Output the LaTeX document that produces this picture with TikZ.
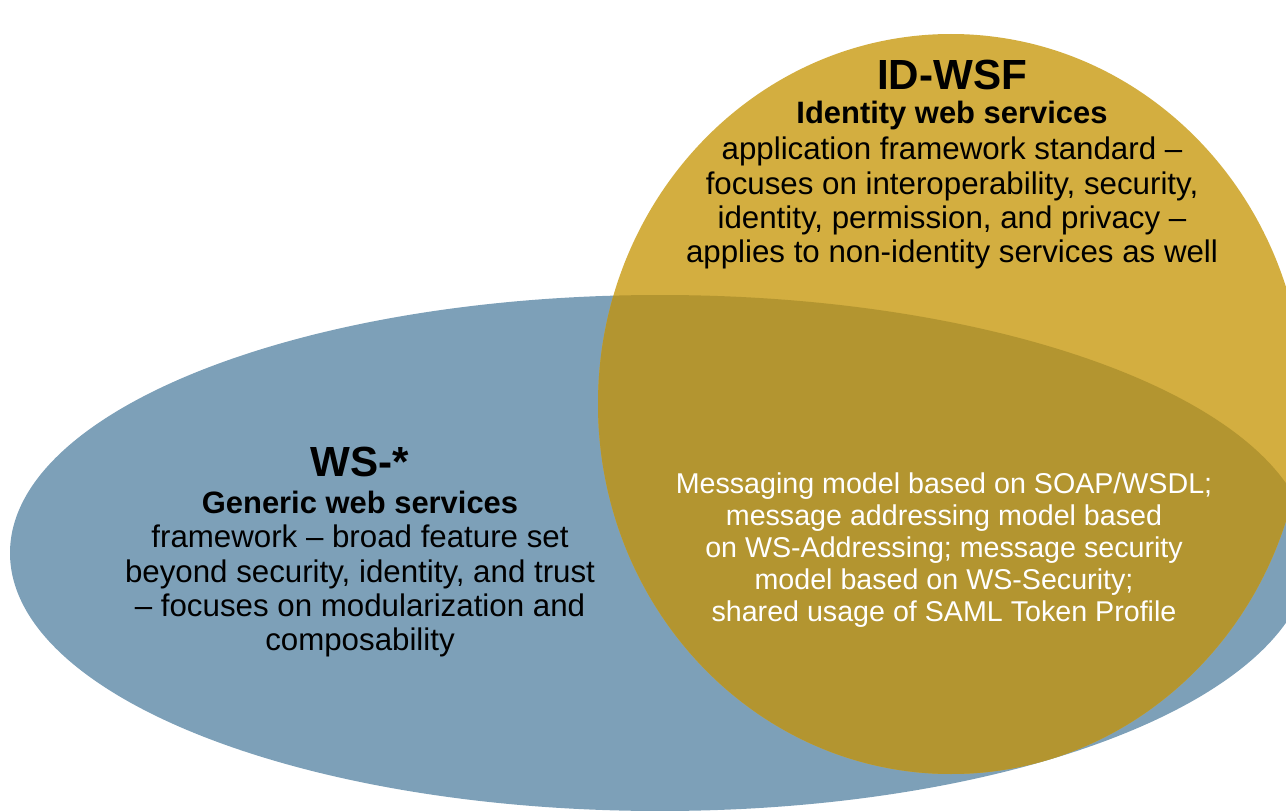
\documentclass[tikz,border=0pt]{standalone}
\usepackage{fontspec}
\setmainfont{Liberation Sans}
\definecolor{wsblue}{HTML}{7DA0B8}
\definecolor{idgold}{HTML}{D3AE40}
\definecolor{overlapgold}{HTML}{B39530}
\begin{document}
\begin{tikzpicture}[x=0.02cm,y=-0.02cm,
    title/.style={font=\fontsize{24}{28}\selectfont\bfseries},
    subtitle/.style={font=\fontsize{17.6}{20}\selectfont\bfseries},
    body/.style={font=\fontsize{17.8}{19.4}\selectfont,align=center}]
    \clip (0,0) rectangle (1286,811);

    % WS-* ellipse
    \fill[wsblue] (660,553) ellipse [x radius=650, y radius=258];

    % ID-WSF ellipse
    \fill[idgold] (951,404) ellipse [x radius=353, y radius=370];

    % overlap (darker gold)
    \begin{scope}
      \clip (660,553) ellipse [x radius=650, y radius=258];
      \fill[overlapgold] (951,404) ellipse [x radius=353, y radius=370];
    \end{scope}

    % WS-* texts
    \node[title] (wstitle) at (360,462) {WS-*};
    \node[subtitle] (wssub) at (360,502) {Generic web services};
    \node[body] (wsbody) at (360,591) {framework -- broad feature set\\
      beyond security, identity, and trust\\
      -- focuses on modularization and\\
      composability};

    % ID-WSF texts
    \node[title] (idtitle) at (952,75) {ID-WSF};
    \node[subtitle] (idsub) at (952,116) {Identity web services};
    \node[body] (idbody) at (952,203) {application framework standard --\\
      focuses on interoperability, security,\\
      identity, permission, and privacy --\\
      applies to non-identity services as well};

    % shared part
    \node[body,text=white,font=\fontsize{16.3}{18.3}\selectfont] (shared) at (944,550)
      {Messaging model based on SOAP/WSDL;\\
      message addressing model based\\
      on WS-Addressing; message security\\
      model based on WS-Security;\\
      shared usage of SAML Token Profile};
  \end{tikzpicture}
\end{document}
